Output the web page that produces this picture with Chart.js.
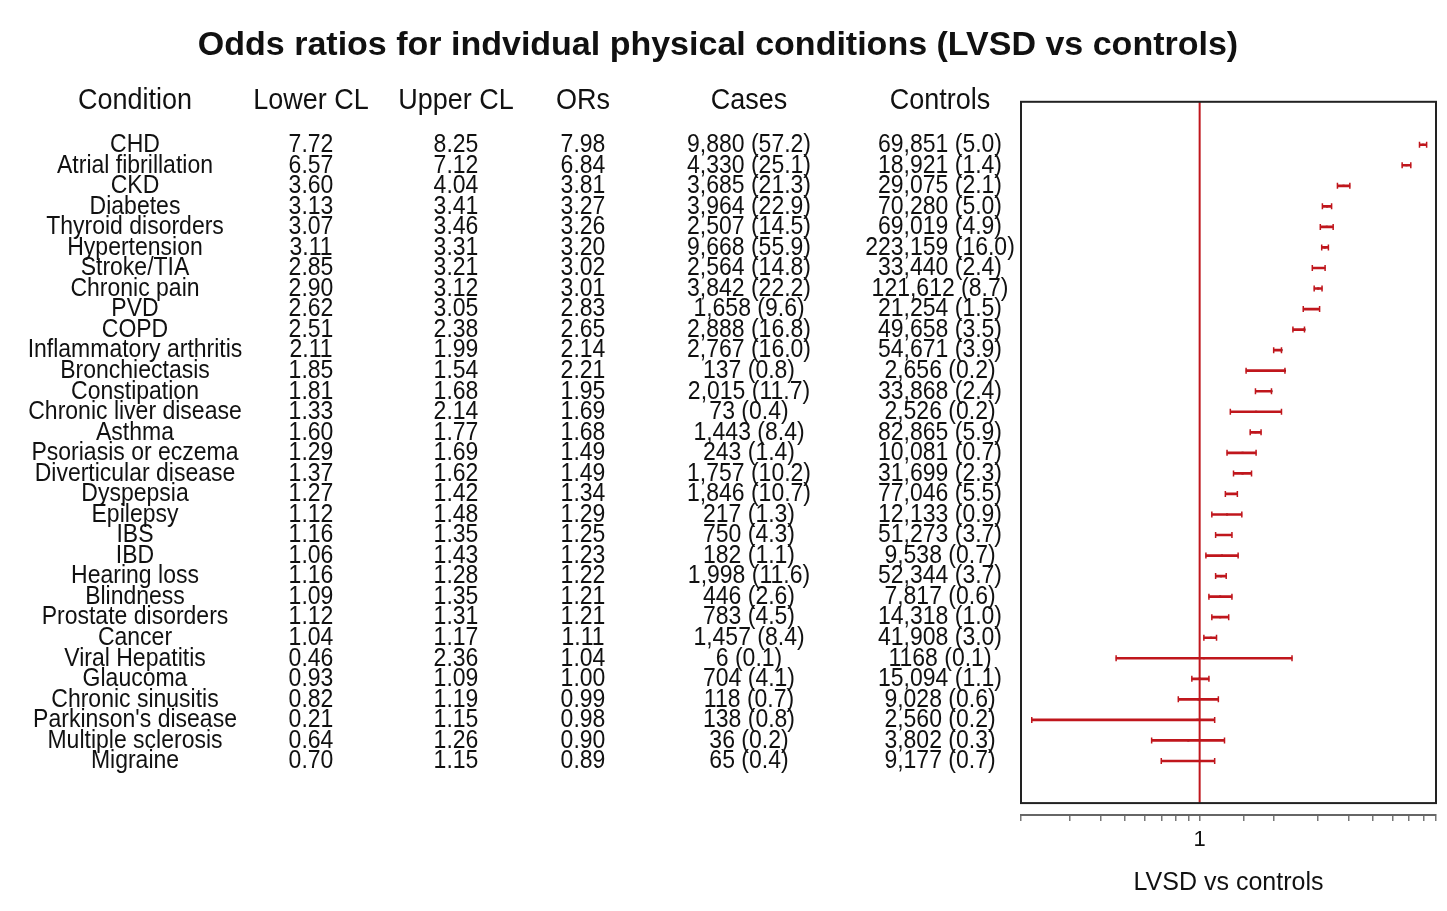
<!DOCTYPE html>
<html>
<head>
<meta charset="utf-8">
<script src="https://cdn.jsdelivr.net/npm/chart.js@4"></script>
<style>
  body { margin: 0; background: #fff; }
  #wrap { width: 1447px; height: 911px; position: relative; }
</style>
</head>
<body>
<div id="wrap"><canvas id="chart"></canvas></div>
<script>
const conditions = ["CHD", "Atrial fibrillation", "CKD", "Diabetes", "Thyroid disorders", "Hypertension",
  "Stroke/TIA", "Chronic pain", "PVD", "COPD", "Inflammatory arthritis", "Bronchiectasis", "Constipation",
  "Chronic liver disease", "Asthma", "Psoriasis or eczema", "Diverticular disease", "Dyspepsia", "Epilepsy",
  "IBS", "IBD", "Hearing loss", "Blindness", "Prostate disorders", "Cancer", "Viral Hepatitis", "Glaucoma",
  "Chronic sinusitis", "Parkinson's disease", "Multiple sclerosis", "Migraine"];
const lowerCL = [7.72, 6.57, 3.60, 3.13, 3.07, 3.11, 2.85, 2.90, 2.62, 2.51, 2.11, 1.85, 1.81, 1.33, 1.60, 1.29,
  1.37, 1.27, 1.12, 1.16, 1.06, 1.16, 1.09, 1.12, 1.04, 0.46, 0.93, 0.82, 0.21, 0.64, 0.70];
const upperCL = [8.25, 7.12, 4.04, 3.41, 3.46, 3.31, 3.21, 3.12, 3.05, 2.38, 1.99, 1.54, 1.68, 2.14, 1.77, 1.69,
  1.62, 1.42, 1.48, 1.35, 1.43, 1.28, 1.35, 1.31, 1.17, 2.36, 1.09, 1.19, 1.15, 1.26, 1.15];
const oddsRatios = [7.98, 6.84, 3.81, 3.27, 3.26, 3.20, 3.02, 3.01, 2.83, 2.65, 2.14, 2.21, 1.95, 1.69, 1.68, 1.49,
  1.49, 1.34, 1.29, 1.25, 1.23, 1.22, 1.21, 1.21, 1.11, 1.04, 1.00, 0.99, 0.98, 0.90, 0.89];
const cases = ["9,880 (57.2)", "4,330 (25.1)", "3,685 (21.3)", "3,964 (22.9)", "2,507 (14.5)", "9,668 (55.9)",
  "2,564 (14.8)", "3,842 (22.2)", "1,658 (9.6)", "2,888 (16.8)", "2,767 (16.0)", "137 (0.8)", "2,015 (11.7)",
  "73 (0.4)", "1,443 (8.4)", "243 (1.4)", "1,757 (10.2)", "1,846 (10.7)", "217 (1.3)", "750 (4.3)", "182 (1.1)",
  "1,998 (11.6)", "446 (2.6)", "783 (4.5)", "1,457 (8.4)", "6 (0.1)", "704 (4.1)", "118 (0.7)", "138 (0.8)",
  "36 (0.2)", "65 (0.4)"];
const controls = ["69,851 (5.0)", "18,921 (1.4)", "29,075 (2.1)", "70,280 (5.0)", "69,019 (4.9)", "223,159 (16.0)",
  "33,440 (2.4)", "121,612 (8.7)", "21,254 (1.5)", "49,658 (3.5)", "54,671 (3.9)", "2,656 (0.2)", "33,868 (2.4)",
  "2,526 (0.2)", "82,865 (5.9)", "10,081 (0.7)", "31,699 (2.3)", "77,046 (5.5)", "12,133 (0.9)", "51,273 (3.7)",
  "9,538 (0.7)", "52,344 (3.7)", "7,817 (0.6)", "14,318 (1.0)", "41,908 (3.0)", "1168 (0.1)", "15,094 (1.1)",
  "9,028 (0.6)", "2,560 (0.2)", "3,802 (0.3)", "9,177 (0.7)"];
const headers = ["Condition", "Lower CL", "Upper CL", "ORs", "Cases", "Controls"];

const RED = "#c0161c";
const FONT = '"Liberation Sans", Arial, sans-serif';
const colX = [135, 311, 456, 583, 749, 940];

// the plotted line covers the full spread of the three values in each row
const spanLo = conditions.map((c, i) => Math.min(lowerCL[i], upperCL[i], oddsRatios[i]));
const spanHi = conditions.map((c, i) => Math.max(lowerCL[i], upperCL[i], oddsRatios[i]));

function tallText(ctx, t, x, y, sy) {
  ctx.save();
  ctx.translate(x, y);
  ctx.scale(1, sy);
  ctx.fillText(t, 0, 0);
  ctx.restore();
}

const forestExtras = {
  id: "forestExtras",
  beforeDatasetsDraw(chart) {
    const { ctx, chartArea, scales } = chart;
    const x1 = scales.x.getPixelForValue(1);
    ctx.save();
    ctx.strokeStyle = RED;
    ctx.lineWidth = 2;
    ctx.beginPath();
    ctx.moveTo(x1, chartArea.top);
    ctx.lineTo(x1, scales.y.getPixelForValue(32.05));
    ctx.stroke();
    ctx.restore();
  },
  afterDraw(chart) {
    const { ctx, chartArea, scales } = chart;
    const y = scales.y;
    ctx.save();
    // plot frame
    ctx.strokeStyle = "#222";
    ctx.lineWidth = 2;
    const bottom = y.getPixelForValue(32.05);
    ctx.strokeRect(chartArea.left, chartArea.top, chartArea.right - chartArea.left, bottom - chartArea.top);

    // table
    ctx.fillStyle = "#111";
    ctx.textAlign = "center";
    ctx.textBaseline = "middle";
    ctx.font = "27px " + FONT;
    headers.forEach((h, k) => tallText(ctx, h, colX[k], 101, 1.1));
    ctx.font = "23px " + FONT;
    conditions.forEach((c, i) => {
      const py = y.getPixelForValue(i);
      const cells = [c, lowerCL[i].toFixed(2), upperCL[i].toFixed(2), oddsRatios[i].toFixed(2), cases[i], controls[i]];
      cells.forEach((t, k) => tallText(ctx, t, colX[k], py, 1.15));
    });
    ctx.restore();
  }
};

const capPoints = [];
conditions.forEach((c, i) => {
  capPoints.push({ x: spanLo[i], y: i });
  capPoints.push({ x: spanHi[i], y: i });
});

new Chart(document.getElementById("chart"), {
  type: "scatter",
  data: {
    datasets: [
      {
        type: "bar",
        indexAxis: "y",
        data: conditions.map((c, i) => ({ y: i, x: [spanLo[i], spanHi[i]] })),
        backgroundColor: RED,
        borderWidth: 0,
        barThickness: 2
      },
      {
        data: capPoints,
        pointStyle: "line",
        rotation: 90,
        radius: 3,
        borderColor: RED,
        borderWidth: 1.5
      },
      {
        data: conditions.map((c, i) => ({ x: oddsRatios[i], y: i })),
        pointStyle: "rect",
        radius: 1.5,
        backgroundColor: "#5a0a0a",
        borderWidth: 0
      }
    ]
  },
  options: {
    responsive: true,
    maintainAspectRatio: false,
    animation: false,
    layout: { padding: { left: 0, right: 11, top: 0, bottom: 0 } },
    plugins: {
      legend: { display: false },
      tooltip: { enabled: false },
      title: {
        display: true,
        text: "Odds ratios for indvidual physical conditions (LVSD vs controls)",
        color: "#111",
        font: { family: FONT, size: 34, weight: "bold" },
        padding: { top: 25, bottom: 36 }
      }
    },
    scales: {
      x: {
        type: "logarithmic",
        min: 0.19,
        max: 9,
        offset: false,
        afterFit: (s) => { s.height = 96; },
        border: { display: true, color: "#666", width: 2 },
        grid: { display: true, drawOnChartArea: false, drawTicks: true, tickLength: 6, color: "#777", lineWidth: 1.5, offset: false },
        ticks: {
          autoSkip: false,
          maxRotation: 0,
          padding: 6,
          color: "#111",
          font: { family: FONT, size: 22 },
          callback: (v) => (Math.abs(v - 1) < 1e-9 ? "1" : "")
        },
        title: {
          display: true,
          text: "LVSD vs controls",
          color: "#111",
          font: { family: FONT, size: 25 },
          padding: { top: 4, bottom: 13 }
        }
      },
      y: {
        type: "linear",
        reverse: true,
        min: -2.09,
        max: 32.63,
        offset: false,
        afterFit: (s) => { s.width = 1021; },
        grid: { display: false },
        border: { display: false },
        ticks: { display: false }
      }
    }
  },
  plugins: [forestExtras]
});
</script>
</body>
</html>
